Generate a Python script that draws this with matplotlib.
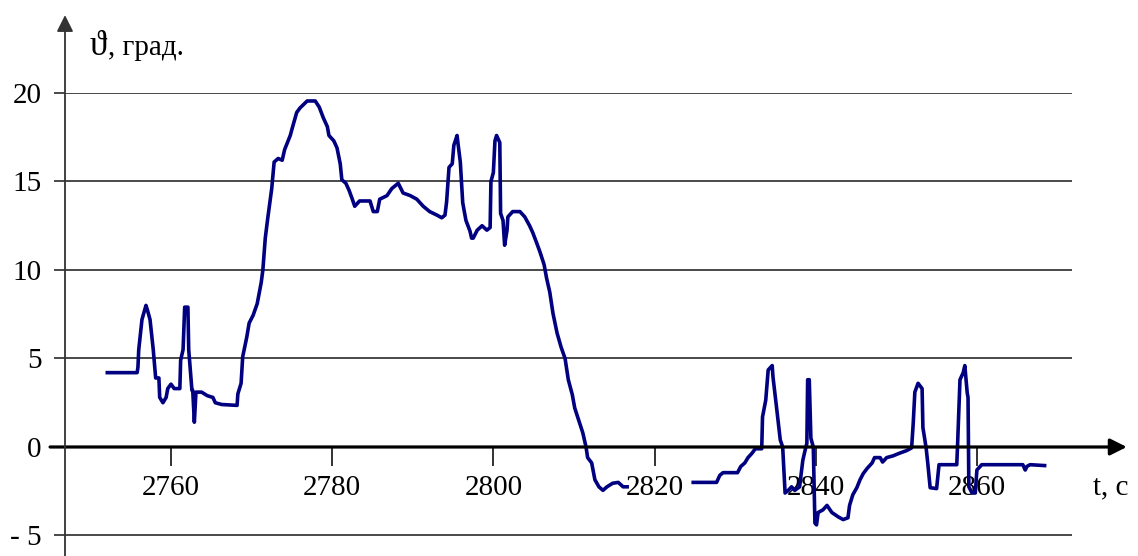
import numpy as np
import matplotlib.pyplot as plt

# angle record before the gap around 2820 s
t1 = [2752.1, 2755.8, 2755.9, 2756.0, 2756.4, 2756.9, 2757.1, 2757.4, 2757.8, 2758.1,
      2758.5, 2758.6, 2759.0, 2759.4, 2759.6, 2760.0, 2760.4, 2761.1, 2761.2, 2761.5,
      2761.7, 2762.1, 2762.2, 2762.6, 2762.7, 2762.9, 2763.1, 2763.8, 2764.5, 2765.2,
      2765.5, 2766.3, 2768.2, 2768.3, 2768.7, 2768.9, 2769.4, 2769.7, 2770.2, 2770.7,
      2771.2, 2771.4, 2771.7, 2772.0, 2772.5, 2772.8, 2773.3, 2773.8, 2774.1, 2774.8,
      2775.1, 2775.6, 2776.0, 2776.9, 2777.9, 2778.4, 2778.9, 2779.4, 2779.6, 2780.2,
      2780.6, 2781.0, 2781.2, 2781.7, 2782.1, 2782.5, 2782.8, 2783.4, 2784.7, 2785.1,
      2785.6, 2785.9, 2786.8, 2787.4, 2788.2, 2788.8, 2789.7, 2790.5, 2791.3, 2792.1,
      2793.0, 2793.6, 2794.0, 2794.2, 2794.5, 2794.9, 2795.1, 2795.5, 2795.6, 2795.9,
      2796.2, 2796.6, 2797.1, 2797.3, 2797.5, 2798.0, 2798.6, 2799.2, 2799.6, 2799.7,
      2800.0, 2800.2, 2800.4, 2800.8, 2800.9, 2801.2, 2801.4, 2801.7, 2801.8, 2802.4,
      2803.3, 2803.9, 2804.5, 2804.9, 2805.4, 2805.8, 2806.3, 2806.6, 2807.0, 2807.4,
      2807.9, 2808.4, 2808.9, 2809.3, 2809.8, 2810.1, 2810.6, 2811.1, 2811.5, 2811.7,
      2812.2, 2812.6, 2813.1, 2813.6, 2814.1, 2814.8, 2815.5, 2816.1, 2816.6]
th1 = [4.2, 4.2, 4.5, 5.5, 7.2, 8.0, 7.7, 7.2, 5.5, 3.9,
       3.9, 2.8, 2.5, 2.8, 3.3, 3.55, 3.3, 3.3, 4.9, 5.5,
       7.9, 7.9, 5.5, 3.2, 3.2, 1.4, 3.1, 3.1, 2.9, 2.8,
       2.5, 2.4, 2.35, 3.0, 3.6, 5.1, 6.2, 7.0, 7.45, 8.1,
       9.3, 10.0, 11.8, 12.9, 14.6, 16.1, 16.3, 16.2, 16.8, 17.6,
       18.1, 18.9, 19.15, 19.55, 19.55, 19.2, 18.6, 18.1, 17.6, 17.3,
       16.9, 16.0, 15.1, 14.9, 14.5, 14.0, 13.6, 13.9, 13.9, 13.3,
       13.3, 14.0, 14.2, 14.6, 14.9, 14.35, 14.2, 14.0, 13.6, 13.3,
       13.1, 12.95, 13.1, 13.85, 15.8, 16.0, 17.05, 17.6, 17.2, 16.1,
       13.8, 12.8, 12.2, 11.8, 11.8, 12.25, 12.5, 12.25, 12.4, 15.0,
       15.5, 17.3, 17.6, 17.2, 13.2, 12.8, 11.4, 12.25, 13.0, 13.3,
       13.3, 13.0, 12.5, 12.1, 11.5, 11.0, 10.3, 9.55, 8.75, 7.55,
       6.45, 5.65, 5.0, 3.8, 2.95, 2.2, 1.5, 0.8, 0.0, -0.6,
       -0.9, -1.85, -2.25, -2.45, -2.25, -2.05, -2.0, -2.25, -2.25]

# angle record after the gap
t2 = [2824.8, 2827.7, 2828.1, 2828.5, 2830.3, 2830.7, 2831.2, 2831.6, 2832.1, 2832.5,
      2833.3, 2833.4, 2833.8, 2834.1, 2834.6, 2834.7, 2835.2, 2835.6, 2835.9, 2836.2,
      2836.6, 2837.0, 2837.4, 2838.0, 2838.4, 2838.7, 2838.9, 2839.0, 2839.2, 2839.4,
      2839.7, 2839.9, 2840.1, 2840.3, 2840.9, 2841.4, 2842.0, 2842.8, 2843.4, 2844.0,
      2844.2, 2844.6, 2845.1, 2845.5, 2845.9, 2846.4, 2847.0, 2847.3, 2848.0, 2848.3,
      2848.8, 2849.6, 2850.4, 2851.3, 2851.9, 2852.1, 2852.3, 2852.7, 2853.2, 2853.3,
      2853.7, 2853.9, 2854.2, 2855.0, 2855.3, 2857.5, 2857.6, 2857.9, 2858.3, 2858.5,
      2858.8, 2858.9, 2859.0, 2859.4, 2859.8, 2860.0, 2860.6, 2865.7, 2866.0, 2866.2,
      2866.6, 2868.4]
th2 = [-2.0, -2.0, -1.6, -1.45, -1.45, -1.1, -0.9, -0.6, -0.35, -0.1,
       -0.1, 1.7, 2.65, 4.35, 4.6, 3.95, 2.0, 0.4, 0.0, -2.6,
       -2.45, -2.25, -2.45, -2.25, -0.75, -0.15, 0.2, 3.8, 3.8, 0.5,
       0.0, -4.3, -4.4, -3.7, -3.55, -3.3, -3.7, -3.95, -4.1, -4.0,
       -3.3, -2.7, -2.3, -1.85, -1.5, -1.2, -0.9, -0.6, -0.6, -0.85,
       -0.6, -0.5, -0.35, -0.2, -0.05, 1.35, 3.1, 3.6, 3.3, 1.1,
       -0.05, -0.9, -2.3, -2.35, -1.0, -1.0, 0.1, 3.8, 4.2, 4.6,
       3.05, 2.8, -2.25, -2.6, -2.6, -1.3, -1.0, -1.0, -1.3, -1.1,
       -1.0, -1.05]

x_ticks = [2760, 2780, 2800, 2820, 2840, 2860]
y_ticks = [-5, 0, 5, 10, 15, 20]
y_labels = ['- 5', '0', '5', '10', '15', '20']

plt.rcParams['font.family'] = ['Liberation Serif', 'DejaVu Serif']

fig = plt.figure(figsize=(11.38, 5.56), dpi=100)
ax = fig.add_axes([65 / 1138, 15.2 / 556, 1007 / 1138, 447.8 / 556])
ax.set_xlim(2746.85, 2871.8)
ax.set_ylim(-5.3, 20)

line_kw = dict(color='#000080', lw=2.6, zorder=3)
ax.plot(t1, th1, **line_kw)
ax.plot(t2, th2, **line_kw)

for s in ax.spines.values():
    s.set_visible(False)
ax.spines['bottom'].set_position(('data', 0))
ax.set_xticks(x_ticks)
ax.set_yticks(y_ticks, y_labels)
ax.grid(axis='y', color='#3a3a3a', lw=1.3)
ax.tick_params(axis='y', length=8, width=1.3, color='#3a3a3a', pad=9, labelsize=21)
ax.tick_params(axis='x', length=14, width=1.3, color='#222222', pad=6, labelsize=21)

# axes with arrow heads
ax.annotate('', xy=(2878.6, 0), xytext=(2745.0, 0), annotation_clip=False,
            arrowprops=dict(arrowstyle='-|>', color='black', lw=2.3,
                            mutation_scale=25, shrinkA=0, shrinkB=0))
ax.annotate('', xy=(2746.85, 24.4), xytext=(2746.85, -6.3), annotation_clip=False,
            arrowprops=dict(arrowstyle='-|>', color='#333333', lw=1.3,
                            mutation_scale=25, shrinkA=0, shrinkB=0))

fig.text(90 / 1138, 1 - 55 / 556, 'ϑ', fontsize=25, va='baseline')
fig.text(108 / 1138, 1 - 55 / 556, ', град.', fontsize=21, va='baseline')
fig.text(1093 / 1138, 1 - 487 / 556, 't, с', fontsize=21, va='center')

fig.savefig('out.png', dpi=100)
